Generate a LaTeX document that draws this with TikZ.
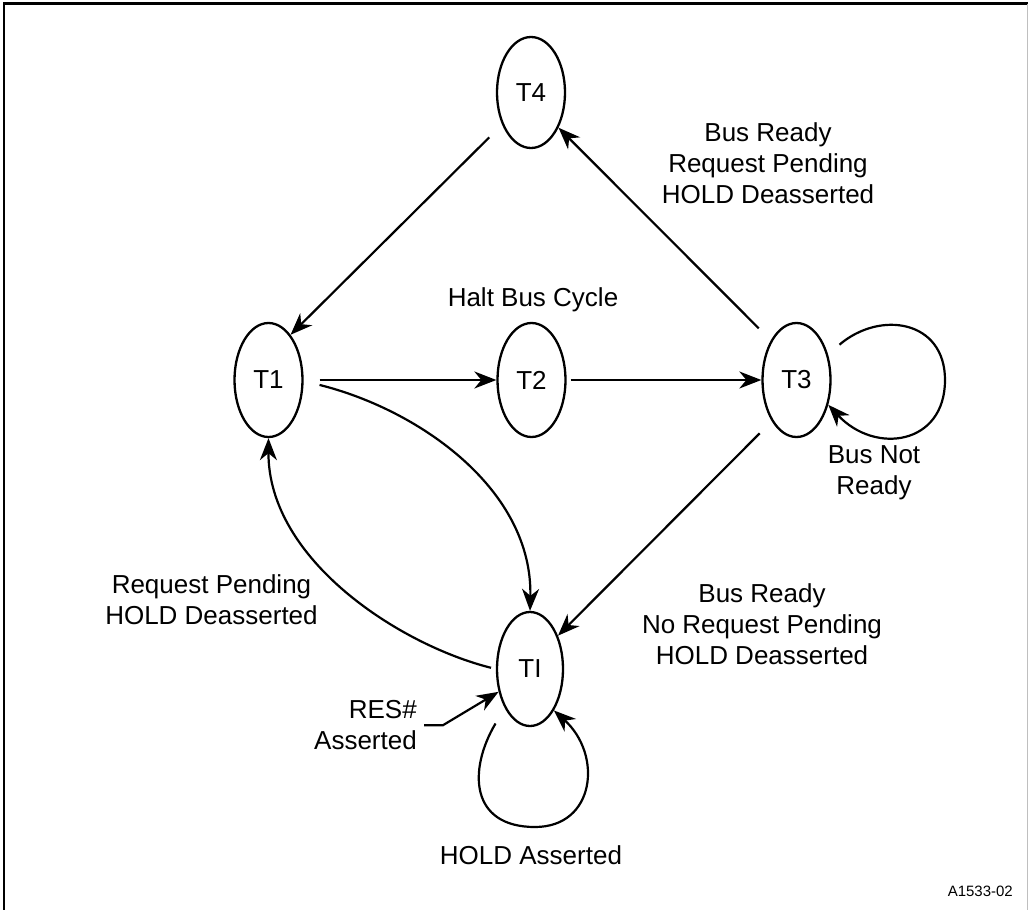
\documentclass[tikz,border=0pt]{standalone}
\usepackage{fontspec}
\setmainfont{Liberation Sans}
\usetikzlibrary{shapes.geometric,arrows.meta}
\begin{document}
\begin{tikzpicture}[x=1pt,y=-1pt,
  txt/.style={font=\fontsize{26}{31}\selectfont},
  state/.style={ellipse, draw, line width=2.3pt, minimum width=68pt, minimum height=114pt, inner sep=0pt, txt},
  arr/.style={line width=2.2pt, -{Stealth[length=22pt,width=17pt,inset=7pt]}},
  lbl/.style={align=center, inner sep=0pt, txt}]
\useasboundingbox (0,0) rectangle (1028,910);
% frame
\draw[line width=2.5pt] (4,910) -- (4,3.5) -- (1028,3.5);
\draw[black!25, line width=1pt] (1027,3.5) -- (1027,910);
% states
\node[state, minimum height=111pt] (T4) at (531,92.5) {T4};
\node[state] (T1) at (268.5,380) {T1};
\node[state] (T2) at (531.5,380) {T2};
\node[state] (T3) at (796.5,380) {T3};
\node[state, minimum width=66pt] (TI) at (530,669) {TI};
% labels
\node[lbl] (halt) at (533,300) {Halt Bus Cycle};
\node[lbl] (brq) at (768,163.7) {Bus Ready\\Request Pending\\HOLD Deasserted};
\node[lbl] (bnr) at (874,473) {Bus Not\\Ready};
\node[lbl] (rqp) at (211.5,599.7) {Request Pending\\HOLD Deasserted};
\node[lbl] (brn) at (762,623.8) {Bus Ready\\No Request Pending\\HOLD Deasserted};
\node[lbl, align=right, anchor=east] (res) at (417,725.2) {RES\#\\Asserted};
\node[lbl] (hold) at (531,855) {HOLD Asserted};
\node[inner sep=0pt, font=\fontsize{15}{18}\selectfont, anchor=base east] (fig) at (1013,896) {A1533-02};
% transitions
\draw[arr, shorten <=18pt] (T4.228) -- (T1.64.5);
\draw[arr, shorten <=16pt] (T1.east) -- (T2.west);
\draw[arr, shorten <=4pt] (T2.east) -- (T3.west);
\draw[arr, shorten <=17pt] (T3.123) -- (T4.-52.7);
\draw[arr, shorten <=17pt] (T3.239) -- (TI.50);
\draw[arr] ([xshift=16pt]T1.-8) .. controls (420,410) and (533,490) .. (TI.north);
\draw[arr, shorten <=5pt] (TI.west) .. controls (400,645) and (268,560) .. (T1.south);
\draw[arr, shorten <=18pt] (TI.237) .. controls (468,770) and (470,827) .. (535,827)
   .. controls (595,827) and (603,755) .. (TI.-60);
\draw[arr, shorten <=15pt] (T3.39) .. controls (880,310) and (945,320) .. (945,380)
   .. controls (945,445) and (875,455) .. (T3.-38);
\draw[arr] ([xshift=7pt]res.east) -- ++(19,0) -- (TI.216);
\end{tikzpicture}
\end{document}
